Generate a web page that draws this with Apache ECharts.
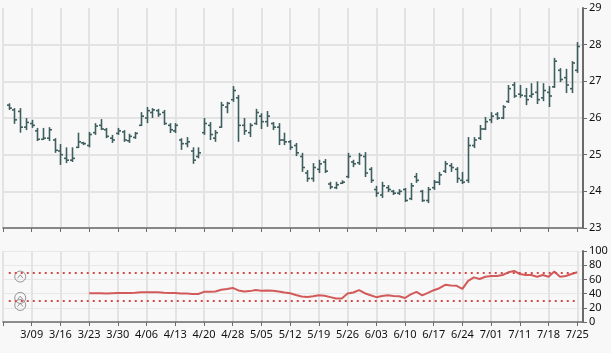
<!DOCTYPE html>
<html>
<head>
<meta charset="utf-8">
<script src="https://cdn.jsdelivr.net/npm/echarts@6/dist/echarts.min.js"></script>
<style>
  * { margin: 0; padding: 0; }
  body { background: #f8f8f8; }
  #main { width: 611px; height: 353px; }
</style>
</head>
<body>
<div id="main"></div>
<script>
// trading days (index 0 and 101 are padding with no bar)
const dates = [
  '3/02','3/03','3/04','3/05','3/06','3/09','3/10','3/11','3/12','3/13',
  '3/16','3/17','3/18','3/19','3/20','3/23','3/24','3/25','3/26','3/27',
  '3/30','3/31','4/01','4/02','4/03','4/06','4/07','4/08','4/09','4/10',
  '4/13','4/14','4/15','4/16','4/17','4/20','4/21','4/22','4/23','4/24',
  '4/28','4/29','4/30','5/01','5/04','5/05','5/06','5/07','5/08','5/09',
  '5/12','5/13','5/14','5/15','5/16','5/19','5/20','5/21','5/22','5/23',
  '5/26','5/27','5/28','5/29','6/02','6/03','6/04','6/05','6/06','6/09',
  '6/10','6/11','6/12','6/13','6/16','6/17','6/18','6/19','6/20','6/23',
  '6/24','6/25','6/26','6/27','6/30','7/01','7/02','7/03','7/09','7/10',
  '7/11','7/14','7/15','7/16','7/17','7/18','7/21','7/22','7/23','7/24',
  '7/25','7/28'
];

// OHLC for bars 1..100
const opens = [
  26.35,26.22,26.18,25.75,25.85,25.65,25.42,25.45,25.40,25.10,
  24.90,24.85,25.20,25.32,25.25,25.60,25.80,25.68,25.45,25.58,
  25.62,25.38,25.47,25.80,26.00,26.15,26.20,26.15,25.80,25.65,
  25.40,25.30,25.10,24.95,25.60,25.80,25.45,25.75,26.30,26.50,
  26.55,25.80,25.60,25.85,26.05,25.90,25.85,25.75,25.40,25.35,
  25.25,24.95,24.50,24.35,24.60,24.80,24.20,24.10,24.22,24.40,
  24.80,24.78,24.95,24.60,24.05,23.90,24.10,24.00,23.95,24.05,
  23.80,24.40,24.00,23.75,24.10,24.25,24.55,24.70,24.60,24.30,
  24.30,25.25,25.45,25.70,25.95,26.10,26.00,26.45,26.90,26.65,
  26.60,26.60,26.70,26.55,26.70,26.85,27.30,27.10,26.80,27.30
];
const highs = [
  26.40,26.27,26.27,26.00,25.95,25.73,25.73,25.75,25.45,25.29,
  25.20,25.20,25.60,25.35,25.62,25.86,25.97,25.73,25.54,25.73,
  25.67,25.57,25.62,26.16,26.30,26.27,26.25,26.22,25.86,25.86,
  25.45,25.48,25.20,25.20,26.00,25.89,25.67,26.44,26.44,26.87,
  26.63,26.00,25.86,26.25,26.13,26.19,25.89,25.86,25.60,25.40,
  25.32,25.05,24.58,24.77,24.86,24.88,24.26,24.26,24.30,25.05,
  24.86,25.05,25.07,24.66,24.15,24.26,24.17,24.04,24.06,24.09,
  24.23,24.50,24.04,24.12,24.31,24.53,24.83,24.77,24.66,24.53,
  25.48,25.48,25.81,26.03,26.16,26.16,26.35,26.90,26.98,26.90,
  26.82,26.95,27.00,26.95,26.87,27.64,27.36,27.34,27.55,28.07
];
const lows = [
  26.22,25.84,25.60,25.67,25.73,25.37,25.40,25.37,25.05,24.72,
  24.77,24.80,25.18,25.26,25.20,25.54,25.67,25.45,25.32,25.54,
  25.35,25.32,25.43,25.78,25.86,26.00,26.03,25.81,25.59,25.59,
  25.13,25.20,24.75,24.90,25.54,25.40,25.35,25.73,26.13,26.44,
  25.35,25.54,25.48,25.81,25.70,25.76,25.67,25.26,25.26,25.13,
  24.96,24.53,24.26,24.26,24.50,24.50,24.06,24.06,24.20,24.36,
  24.66,24.72,24.39,24.23,23.85,23.82,23.98,23.90,23.90,23.71,
  23.76,24.23,23.71,23.68,24.04,24.17,24.50,24.53,24.23,24.20,
  24.23,25.18,25.40,25.67,25.86,25.95,25.97,26.41,26.55,26.55,
  26.35,26.55,26.38,26.46,26.30,26.82,26.98,26.68,26.68,27.23
];
const closes = [
  26.27,25.95,25.75,25.88,25.80,25.42,25.45,25.68,25.12,25.00,
  24.85,24.90,25.35,25.30,25.55,25.78,25.70,25.50,25.40,25.65,
  25.40,25.50,25.58,26.05,26.20,26.22,26.10,25.85,25.68,25.80,
  25.30,25.35,24.85,25.05,25.85,25.55,25.60,26.35,26.40,26.75,
  25.80,25.65,25.80,26.15,25.90,26.05,25.75,25.40,25.35,25.20,
  25.05,24.65,24.35,24.65,24.75,24.55,24.12,24.18,24.25,24.95,
  24.75,24.98,24.50,24.30,23.95,24.15,24.05,23.95,24.00,23.75,
  24.15,24.30,23.75,24.05,24.25,24.45,24.75,24.65,24.35,24.25,
  25.25,25.40,25.70,25.90,26.05,26.00,26.30,26.80,26.60,26.62,
  26.50,26.65,26.50,26.75,26.60,27.55,27.05,26.90,27.50,27.95
];

// RSI, starts at category index 15 (3/23)
const rsiStart = 15;
const rsi = [
  40.5,40.5,40.5,40.3,40.5,40.7,40.8,41.0,41.2,41.8,
  42.0,42.0,41.8,41.2,41.0,40.8,40.2,40.0,39.5,39.5,
  42.5,42.5,43.0,45.5,46.5,48.0,44.5,43.0,43.5,45.0,
  44.0,44.3,44.0,43.0,41.5,40.5,38.0,36.0,35.2,36.2,
  37.6,37.0,35.0,33.0,33.0,40.0,41.5,45.0,40.5,37.6,
  35.0,36.7,37.6,36.7,36.2,33.8,39.0,42.4,37.6,41.0,
  44.8,47.6,52.4,51.4,51.0,46.7,58.0,62.9,60.5,63.8,
  64.8,64.8,66.2,70.0,71.9,67.6,66.2,66.2,63.8,66.2,
  63.8,71.0,63.8,64.8,67.6,70.0
];
const levels = [70, 30];
const priceTicks = { min: 23, max: 29, interval: 1 };
const rsiTicks = { min: 0, max: 100, interval: 20 };
// event markers on the lower panel
const markers = [[3, 64], [3, 34], [3, 24]];

const ohlc = opens.map((o, i) => [i + 1, o, highs[i], lows[i], closes[i]]);
const rsiData = dates.map((d, i) => {
  const k = i - rsiStart;
  return k >= 0 && k < rsi.length ? rsi[k] : '-';
});

const every5 = (idx) => idx % 5 === 0;
const labelFont = { fontFamily: 'Noto Sans', fontSize: 11, color: '#111' };
const gridColor = '#e3e3e3';
const axisColor = '#6b6b6b';

const chart = echarts.init(document.getElementById('main'));
chart.setOption({
  animation: false,
  backgroundColor: '#f8f8f8',
  grid: [
    { left: 3, right: 28, top: 8, height: 220 },
    { left: 3, right: 28, top: 251, height: 71 }
  ],
  xAxis: [
    {
      type: 'category', gridIndex: 0, data: dates, boundaryGap: false,
      axisLine: { lineStyle: { color: axisColor, width: 1.5 } },
      axisTick: { interval: every5, length: 4, lineStyle: { color: axisColor } },
      axisLabel: { show: false },
      splitLine: { show: true, interval: every5, lineStyle: { color: gridColor, width: 2 } }
    },
    {
      type: 'category', gridIndex: 1, data: dates, boundaryGap: false,
      axisLine: { lineStyle: { color: axisColor, width: 1.5 } },
      axisTick: { interval: every5, length: 4, lineStyle: { color: axisColor } },
      axisLabel: Object.assign({
        interval: (idx) => idx > 0 && idx % 5 === 0, margin: 7
      }, labelFont),
      splitLine: { show: true, interval: every5, lineStyle: { color: gridColor, width: 2 } }
    }
  ],
  yAxis: [
    Object.assign({
      type: 'value', gridIndex: 0, position: 'right',
      axisLine: { show: true, lineStyle: { color: axisColor, width: 2 } },
      axisTick: { show: true, length: 4, lineStyle: { color: axisColor } },
      axisLabel: Object.assign({ margin: 6 }, labelFont),
      splitLine: { showMaxLine: false, lineStyle: { color: gridColor, width: 2 } }
    }, priceTicks),
    Object.assign({
      type: 'value', gridIndex: 1, position: 'right',
      axisLine: { show: true, lineStyle: { color: axisColor, width: 2 } },
      axisTick: { show: true, length: 4, lineStyle: { color: axisColor } },
      axisLabel: Object.assign({ margin: 6 }, labelFont),
      splitLine: { lineStyle: { color: '#e8e8e8', width: 1 } }
    }, rsiTicks)
  ],
  series: [
    {
      type: 'custom',
      xAxisIndex: 0, yAxisIndex: 0,
      data: ohlc,
      encode: { x: 0, y: [1, 2, 3, 4] },
      renderItem: function (params, api) {
        const idx = api.value(0);
        const o = api.coord([idx, api.value(1)]);
        const h = api.coord([idx, api.value(2)]);
        const l = api.coord([idx, api.value(3)]);
        const c = api.coord([idx, api.value(4)]);
        const x = Math.round(h[0]) + 0.5;
        const style = { stroke: '#3f5e5e', lineWidth: 1.6, fill: null };
        return {
          type: 'group',
          children: [
            { type: 'line', shape: { x1: x, y1: h[1], x2: x, y2: l[1] }, style: style },
            { type: 'line', shape: { x1: x - 2.5, y1: o[1], x2: x, y2: o[1] }, style: style },
            { type: 'line', shape: { x1: x, y1: c[1], x2: x + 2.5, y2: c[1] }, style: style }
          ]
        };
      }
    },
    {
      type: 'line',
      xAxisIndex: 1, yAxisIndex: 1,
      data: rsiData,
      showSymbol: false,
      lineStyle: { color: '#d25a5a', width: 2 },
      markLine: {
        silent: true, symbol: 'none', label: { show: false },
        lineStyle: { color: '#d24a4a', type: [2, 4], width: 2 },
        data: levels.map((v) => [{ coord: [dates[1], v] }, { coord: [dates[100], v] }])
      }
    },
    {
      type: 'scatter',
      xAxisIndex: 1, yAxisIndex: 1,
      data: markers,
      symbol: 'path://M0,-10A10,10 0 1,1 0,10A10,10 0 1,1 0,-10ZM-5,3L0,-3L5,3',
      symbolSize: 11,
      itemStyle: { color: 'rgba(255,255,255,0)', borderColor: '#7a7a7a', borderWidth: 1 }
    }
  ]
});
</script>
</body>
</html>
